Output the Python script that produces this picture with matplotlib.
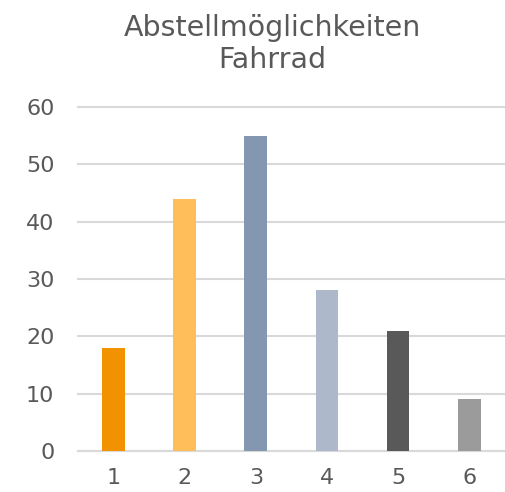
import matplotlib
matplotlib.use("Agg")
import matplotlib.pyplot as plt

categories = ["1", "2", "3", "4", "5", "6"]
values = [18, 44, 55, 28, 21, 9]
colors = ["#F39200", "#FFBE5A", "#8497B0", "#ADB9CA", "#595959", "#9B9B9B"]
title = "Abstellmöglichkeiten\nFahrrad"

plt.rcParams["font.family"] = ["DejaVu Sans"]
fig = plt.figure(figsize=(5.05, 4.92), dpi=100)
ax = fig.add_axes([0.1545, 0.0833, 0.845, 0.6992])
x = range(len(categories))
ax.bar(x, values, width=0.32, color=colors, zorder=3)
ax.set_xlim(-0.5, len(categories) - 0.5)
ax.set_ylim(0, 60)
ax.set_yticks(range(0, 61, 10))
ax.set_xticks(list(x))
ax.set_xticklabels(categories)
ax.yaxis.grid(True, color="#D9D9D9", linewidth=1.5, zorder=0)
ax.set_axisbelow(True)
for gl in ax.get_ygridlines():
    gl.set_clip_on(False)
for s in ax.spines.values():
    s.set_visible(False)
ax.axhline(0, color="#D9D9D9", linewidth=1.5, zorder=2, clip_on=False)
ax.tick_params(axis="both", length=0, labelsize=16, labelcolor="#595959")
ax.tick_params(axis="y", pad=17)
ax.tick_params(axis="x", pad=12)
fig.text(0.54, 0.972, title, ha="center", va="top", fontsize=20.5, color="#595959",
         linespacing=1.18)
fig.savefig("out.png", dpi=100)
